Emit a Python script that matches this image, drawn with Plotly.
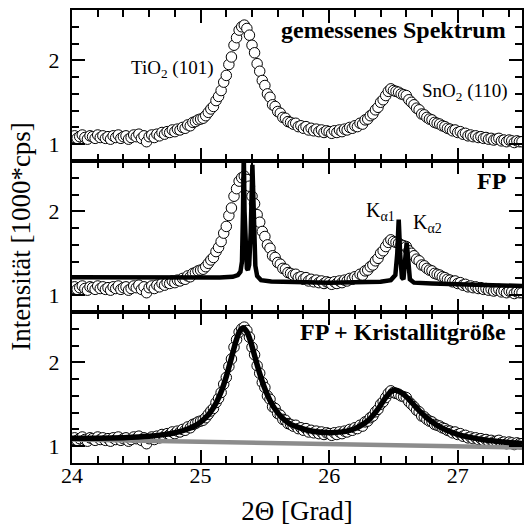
import plotly.graph_objects as go

# ---- measured spectrum (2Theta in degrees, intensity in 1000*cps) ----
scan_2theta = [
    24.00, 24.02, 24.04, 24.06, 24.08, 24.10, 24.12, 24.14, 24.16, 24.18, 24.20, 24.22, 24.24, 24.26, 24.28, 24.30, 24.32, 24.34, 24.36, 24.38, 24.40, 24.42, 24.44, 24.46, 24.48,
    24.50, 24.52, 24.54, 24.56, 24.58, 24.60, 24.62, 24.64, 24.66, 24.68, 24.70, 24.72, 24.74, 24.76, 24.78, 24.80, 24.82, 24.84, 24.86, 24.88, 24.90, 24.92, 24.94, 24.96, 24.98,
    25.00, 25.02, 25.04, 25.06, 25.08, 25.10, 25.12, 25.14, 25.16, 25.18, 25.20, 25.22, 25.24, 25.26, 25.28, 25.30, 25.32, 25.34, 25.36, 25.38, 25.40, 25.42, 25.44, 25.46, 25.48,
    25.50, 25.52, 25.54, 25.56, 25.58, 25.60, 25.62, 25.64, 25.66, 25.68, 25.70, 25.72, 25.74, 25.76, 25.78, 25.80, 25.82, 25.84, 25.86, 25.88, 25.90, 25.92, 25.94, 25.96, 25.98,
    26.00, 26.02, 26.04, 26.06, 26.08, 26.10, 26.12, 26.14, 26.16, 26.18, 26.20, 26.22, 26.24, 26.26, 26.28, 26.30, 26.32, 26.34, 26.36, 26.38, 26.40, 26.42, 26.44, 26.46, 26.48,
    26.50, 26.52, 26.54, 26.56, 26.58, 26.60, 26.62, 26.64, 26.66, 26.68, 26.70, 26.72, 26.74, 26.76, 26.78, 26.80, 26.82, 26.84, 26.86, 26.88, 26.90, 26.92, 26.94, 26.96, 26.98,
    27.00, 27.02, 27.04, 27.06, 27.08, 27.10, 27.12, 27.14, 27.16, 27.18, 27.20, 27.22, 27.24, 27.26, 27.28, 27.30, 27.32, 27.34, 27.36, 27.38, 27.40, 27.42, 27.44, 27.46, 27.48,
    27.50,
]
measured = [
    1.08, 1.10, 1.07, 1.09, 1.11, 1.08, 1.06, 1.10, 1.09, 1.07, 1.11, 1.08, 1.10, 1.07, 1.09, 1.06, 1.10, 1.08, 1.11, 1.07, 1.09, 1.10, 1.06, 1.08, 1.11,
    1.09, 1.12, 1.07, 1.10, 1.03, 1.09, 1.11, 1.08, 1.12, 1.10, 1.14, 1.12, 1.15, 1.14, 1.17, 1.15, 1.18, 1.17, 1.20, 1.19, 1.23, 1.22, 1.26, 1.27, 1.29,
    1.30, 1.31, 1.34, 1.38, 1.42, 1.45, 1.52, 1.57, 1.64, 1.74, 1.82, 1.95, 2.04, 2.18, 2.27, 2.36, 2.40, 2.42, 2.38, 2.30, 2.18, 2.09, 1.96, 1.87, 1.76,
    1.70, 1.60, 1.56, 1.47, 1.45, 1.39, 1.37, 1.32, 1.31, 1.27, 1.26, 1.24, 1.25, 1.21, 1.22, 1.19, 1.21, 1.17, 1.19, 1.16, 1.18, 1.15, 1.17, 1.14, 1.16,
    1.15, 1.13, 1.16, 1.14, 1.17, 1.15, 1.18, 1.17, 1.20, 1.19, 1.22, 1.21, 1.25, 1.24, 1.29, 1.30, 1.34, 1.36, 1.41, 1.44, 1.50, 1.53, 1.58, 1.63, 1.66,
    1.64, 1.63, 1.62, 1.60, 1.59, 1.58, 1.53, 1.50, 1.47, 1.43, 1.41, 1.36, 1.35, 1.32, 1.30, 1.29, 1.26, 1.25, 1.24, 1.22, 1.21, 1.19, 1.18, 1.16, 1.17,
    1.14, 1.15, 1.12, 1.13, 1.10, 1.11, 1.09, 1.10, 1.08, 1.09, 1.07, 1.08, 1.06, 1.07, 1.05, 1.06, 1.07, 1.04, 1.05, 1.03, 1.05, 1.04, 1.02, 1.04, 1.03,
    1.03,
]

# ---- fundamental-parameter (instrument) profile, middle panel ----
fp_x = [24.00, 24.50, 25.00, 25.15, 25.25, 25.29, 25.31, 25.322, 25.330, 25.336, 25.342, 25.350, 25.360, 25.368,
        25.378, 25.390, 25.398, 25.403, 25.408, 25.416, 25.426, 25.440, 25.47, 25.55, 26.00, 26.40, 26.48,
        26.515, 26.530, 26.538, 26.541, 26.544, 26.552, 26.566, 26.578, 26.590, 26.598, 26.603, 26.608,
        26.616, 26.628, 26.66, 26.80, 27.50]
fp_y = [1.215, 1.21, 1.205, 1.21, 1.22, 1.24, 1.28, 1.40, 2.00, 2.70, 2.00, 1.45, 1.32, 1.30,
        1.36, 1.75, 2.30, 2.555, 2.30, 1.75, 1.35, 1.23, 1.18, 1.165, 1.15, 1.16, 1.18,
        1.24, 1.50, 1.80, 1.90, 1.80, 1.50, 1.21, 1.19, 1.35, 1.55, 1.63, 1.55,
        1.35, 1.19, 1.15, 1.14, 1.11]

# ---- FP + crystallite size fit, bottom panel ----
fit_x = [24.0, 24.2, 24.4, 24.6, 24.7, 24.8, 24.9, 24.96, 25.00, 25.04, 25.08, 25.12, 25.16, 25.20, 25.24,
         25.27, 25.30, 25.33, 25.36, 25.39, 25.42, 25.46, 25.50, 25.54, 25.58, 25.62, 25.66, 25.70, 25.76,
         25.82, 25.90, 26.00, 26.10, 26.16, 26.22, 26.28, 26.32, 26.36, 26.40, 26.44, 26.48, 26.51, 26.54,
         26.58, 26.62, 26.66, 26.70, 26.76, 26.84, 26.92, 27.00, 27.10, 27.20, 27.30, 27.40, 27.50]
fit_y = [1.095, 1.096, 1.102, 1.118, 1.135, 1.160, 1.205, 1.247, 1.288, 1.342, 1.413, 1.512, 1.648, 1.830, 2.052,
         2.225, 2.360, 2.413, 2.364, 2.245, 2.080, 1.866, 1.685, 1.545, 1.440, 1.363, 1.305, 1.260, 1.226,
         1.196, 1.172, 1.162, 1.171, 1.190, 1.224, 1.279, 1.332, 1.403, 1.489, 1.581, 1.650, 1.666, 1.656,
         1.617, 1.558, 1.490, 1.425, 1.338, 1.249, 1.187, 1.142, 1.105, 1.078, 1.059, 1.044, 1.033]

# ---- background of the fit ----
bg_x = [24.0, 25.0, 26.0, 27.0, 27.5]
bg_y = [1.08, 1.055, 1.03, 1.00, 0.985]

FONT = "Liberation Serif, Times New Roman, Times, serif"
marker = dict(symbol="circle", size=10.5, color="white", line=dict(color="black", width=1))

fig = go.Figure()
# panels: 'x3/y3' top, 'x2/y2' middle, 'x/y' bottom
for xa, ya in (("x3", "y3"), ("x2", "y2"), ("x", "y")):
    fig.add_trace(go.Scatter(x=scan_2theta, y=measured, mode="markers", marker=marker,
                             xaxis=xa, yaxis=ya, showlegend=False, hoverinfo="skip"))
fig.add_trace(go.Scatter(x=fp_x, y=fp_y, mode="lines", line=dict(color="black", width=4.5),
                         xaxis="x2", yaxis="y2", showlegend=False))
fig.add_trace(go.Scatter(x=bg_x, y=bg_y, mode="lines", line=dict(color="#8c8c8c", width=4.5),
                         xaxis="x", yaxis="y", showlegend=False))
fig.add_trace(go.Scatter(x=fit_x, y=fit_y, mode="lines", line=dict(color="black", width=5.5, shape="spline", smoothing=0.6),
                         xaxis="x", yaxis="y", showlegend=False))

xcommon = dict(range=[24, 27.5], tick0=24, dtick=1, ticks="inside", ticklen=13, tickwidth=2,
               tickcolor="black", showline=True, linewidth=2, linecolor="black", mirror="allticks",
               showgrid=False, zeroline=False,
               minor=dict(tick0=24, dtick=0.2, ticks="inside", ticklen=7, tickwidth=1.5, tickcolor="black", showgrid=False),
               tickfont=dict(family=FONT, size=22, color="black"))
ycommon = dict(range=[0.8, 2.6], tickmode="array", tickvals=[1, 2], ticktext=["1", "2"],
               ticks="inside", ticklen=13, tickwidth=2, tickcolor="black",
               showline=True, linewidth=2, linecolor="black", mirror="allticks",
               showgrid=False, zeroline=False,
               minor=dict(tick0=0.8, dtick=0.2, ticks="inside", ticklen=7, tickwidth=1.5, tickcolor="black", showgrid=False),
               tickfont=dict(family=FONT, size=22, color="black"), ticklabelstandoff=6)

d = 1 / 3
fig.update_layout(
    width=526, height=532,
    margin=dict(l=72, r=2, t=10, b=69),
    paper_bgcolor="white", plot_bgcolor="white",
    font=dict(family=FONT, color="black"),
    xaxis=dict(xcommon, anchor="y", ticklabelstandoff=-8,
               title=dict(text="2Θ [Grad]", font=dict(family=FONT, size=27), standoff=14)),
    xaxis2=dict(xcommon, anchor="y2", matches="x", showticklabels=False),
    xaxis3=dict(xcommon, anchor="y3", matches="x", showticklabels=False),
    yaxis=dict(ycommon, domain=[0, d], anchor="x"),
    yaxis2=dict(ycommon, domain=[d, 2 * d], anchor="x2",
                title=dict(text="Intensität [1000*cps]", font=dict(family=FONT, size=27), standoff=10)),
    yaxis3=dict(ycommon, domain=[2 * d, 1], anchor="x3"),
)

ann_font = dict(family=FONT, size=19, color="black")
title_font = dict(family=FONT, size=24, color="black")
fig.add_annotation(text="TiO<sub>2</sub> (101)", x=24.78, y=1.9, xref="x3", yref="y3",
                   showarrow=False, font=ann_font)
fig.add_annotation(text="SnO<sub>2</sub> (110)", x=27.06, y=1.62, xref="x3", yref="y3",
                   showarrow=False, font=ann_font)
fig.add_annotation(text="K<sub>α1</sub>", x=26.268, y=2.0, xref="x2", yref="y2", xanchor="left",
                   showarrow=False, font=dict(family=FONT, size=20, color="black"))
fig.add_annotation(text="K<sub>α2</sub>", x=26.64, y=1.85, xref="x2", yref="y2", xanchor="left",
                   showarrow=False, font=dict(family=FONT, size=20, color="black"))
for txt, yref in (("gemessenes Spektrum", "y3 domain"), ("FP", "y2 domain"), ("FP + Kristallitgröße", "y domain")):
    fig.add_annotation(text="<b>" + txt + "</b>", x=0.968, y=0.87, xref="x domain", yref=yref,
                       xanchor="right", yanchor="middle", showarrow=False, font=title_font)

fig.write_html("out.html")
